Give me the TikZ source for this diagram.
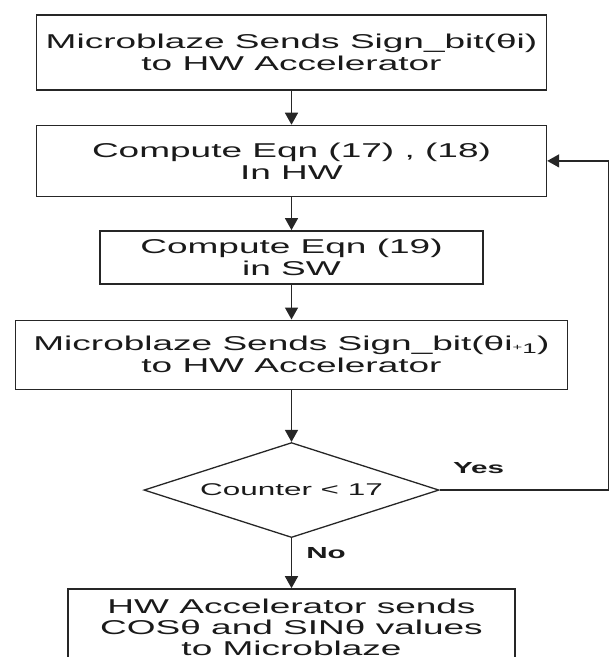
\documentclass[tikz,border=0pt]{standalone}
\usepackage{fontspec}
\setmainfont{Liberation Sans}[FakeStretch=1.85]
\usetikzlibrary{shapes.geometric, arrows.meta, positioning}
\definecolor{linecol}{HTML}{262626}
\definecolor{textcol}{HTML}{1A1A1A}

\begin{document}
\begin{tikzpicture}[
    x=1pt, y=1pt,
    node distance=35pt,
    stepbox/.style={rectangle, draw=linecol, line width=1.4pt, fill=white,
                    minimum width=#1, align=center, inner sep=0pt,
                    text=textcol, font=\fontsize{20}{22}\selectfont},
    decision/.style={diamond, draw=linecol, line width=1.3pt, aspect=3.1,
                     minimum width=295pt, minimum height=95pt, inner sep=0pt,
                     text=textcol, font=\fontsize{17}{19}\selectfont},
    arrow/.style={-{Triangle[length=12pt, width=13pt]}, line width=1.5pt, draw=linecol},
    lbl/.style={font=\bfseries\fontsize{16}{18}\selectfont, text=textcol, inner sep=0pt}
]
\useasboundingbox (0,0) rectangle (609,-657);

% Flow steps
\node[stepbox=510pt, minimum height=75pt] (send) at (291.5,-52.5)
    {Microblaze Sends Sign\_bit(θi)\\to HW Accelerator};
\node[stepbox=510pt, minimum height=71pt, below=34pt of send] (hw)
    {Compute Eqn (17) , (18)\\In HW};
\node[stepbox=383pt, minimum height=53pt, below=33pt of hw] (sw)
    {Compute Eqn (19)\\in SW};
\node[stepbox=552pt, minimum height=69pt, below=35pt of sw] (sendnext)
    {Microblaze Sends Sign\_bit(θi{\small+}\textsubscript{1})\\to HW Accelerator};
\node[decision, below=52pt of sendnext] (test) {Counter < 17};
\node[stepbox=447pt, minimum height=76pt, font=\fontsize{20}{21}\selectfont,
      below=50pt of test] (result)
    {HW Accelerator sends\\COSθ and SINθ values\\to Microblaze};

% Main flow arrows
\draw[arrow] (send) -- (hw);
\draw[arrow] (hw) -- (sw);
\draw[arrow] (sw) -- (sendnext);
\draw[arrow] (sendnext) -- (test);
\draw[arrow] (test) -- node[lbl, right=14pt, pos=0.3] {No} (result);

% Loop back while counting
\draw[arrow] (test.east) -- ++(169,0) node[lbl, pos=0.23, above=16pt] {Yes} |- (hw.east);

\end{tikzpicture}
\end{document}
